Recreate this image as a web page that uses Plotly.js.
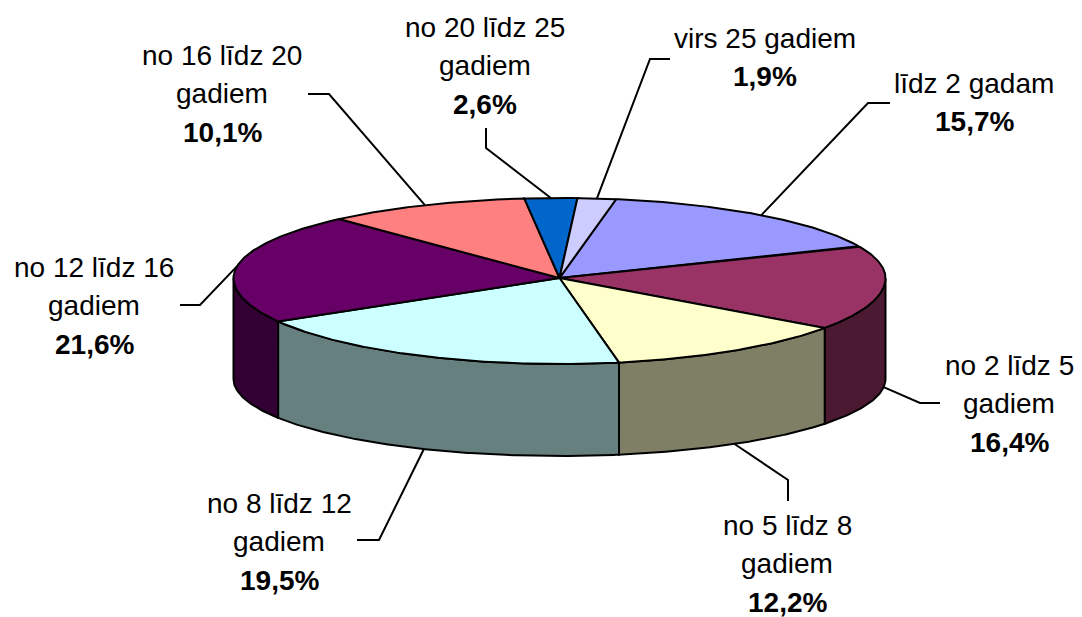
<!DOCTYPE html>
<html>
<head>
<meta charset="utf-8">
<script src="https://cdn.plot.ly/plotly-3.0.1.min.js"></script>
<style>html,body{margin:0;padding:0;background:#fff}#chart{width:1082px;height:617px}</style>
</head>
<body>
<div id="chart"></div>
<script>
// ---- data ----
const categories = ['līdz 2 gadam','no 2 līdz 5 gadiem','no 5 līdz 8 gadiem','no 8 līdz 12 gadiem','no 12 līdz 16 gadiem','no 16 līdz 20 gadiem','no 20 līdz 25 gadiem','virs 25 gadiem'];
const shares = [15.7, 16.4, 12.2, 19.5, 21.6, 10.1, 2.6, 1.9];
const topColors = ['#9999FF','#993366','#FFFFCC','#CCFFFF','#660066','#FF8080','#0066CC','#CCCCFF'];

// ---- layout of the pseudo-3D pie (pixels of the plot area) ----
const G = {cx: 559.5, cy: 278, rx: 326, ryBack: 80, ryFront: 86, cyB: 379, ryB: 77, start: 10};
// label placement: centre x, first baseline, elbow and end of the leader line
const labelLayout = [
  {x: 974,  base: 93,  elbow: [868, 103], end: [890, 103]},
  {x: 1009, base: 375, elbow: [920, 403], end: [940, 403]},
  {x: 787,  base: 535, elbow: [788, 480], end: [788, 501]},
  {x: 279,  base: 513, elbow: [379, 540], end: [357, 540]},
  {x: 94,   base: 277, elbow: [200, 305], end: [180, 305]},
  {x: 222,  base: 65,  elbow: [329, 94],  end: [308, 94]},
  {x: 485,  base: 37,  elbow: [486, 148], end: [486, 128]},
  {x: 765,  base: 48,  elbow: [650, 59],  end: [670, 59]}
];
const lineGap = 38.5;
const FONT = 'Liberation Sans, Arial, sans-serif';
const FONT_SIZE = 28;

function halve(hex){
  const n = parseInt(hex.slice(1),16);
  const r = (n>>16)&255, g=(n>>8)&255, b=n&255;
  return 'rgb('+Math.floor(r/2)+','+Math.floor(g/2)+','+Math.floor(b/2)+')';
}
function topPt(deg){
  const r = deg*Math.PI/180, c = Math.cos(r);
  const ry = c >= 0 ? G.ryBack : G.ryFront;
  return [G.cx + G.rx*Math.sin(r), G.cy - ry*c];
}
function botPt(deg){
  const r = deg*Math.PI/180, c = Math.cos(r);
  return [G.cx + G.rx*Math.sin(r), G.cyB - G.ryB*c];
}
function arc(fn, a, b){
  const pts = [];
  const n = Math.max(2, Math.ceil(Math.abs(b-a)/0.5));
  for (let i=0;i<=n;i++){ pts.push(fn(a + (b-a)*i/n)); }
  return pts;
}

const total = shares.reduce((s,v)=>s+v,0);
const slices = [];
let acc = G.start;
shares.forEach((v,i)=>{
  const a = acc, b = acc + v/total*360;
  slices.push({a, b, mid:(a+b)/2});
  acc = b;
});

const traces = [];
// side walls (front half only)
slices.forEach((s,i)=>{
  const lo = Math.max(s.a, 90), hi = Math.min(s.b, 270);
  if (hi <= lo) return;
  const pts = arc(topPt, lo, hi).concat(arc(botPt, hi, lo));
  pts.push(pts[0]);
  traces.push({type:'scatter', mode:'lines', x:pts.map(p=>p[0]), y:pts.map(p=>p[1]),
    fill:'toself', fillcolor: halve(topColors[i]), line:{color:'#000', width:2},
    hoverinfo:'skip', showlegend:false});
});
// top faces
slices.forEach((s,i)=>{
  const pts = [[G.cx, G.cy]].concat(arc(topPt, s.a, s.b));
  pts.push([G.cx, G.cy]);
  traces.push({type:'scatter', mode:'lines', x:pts.map(p=>p[0]), y:pts.map(p=>p[1]),
    fill:'toself', fillcolor: topColors[i], line:{color:'#000', width:2},
    hoverinfo:'skip', showlegend:false});
});
// leader lines
slices.forEach((s,i)=>{
  const c = Math.cos(s.mid*Math.PI/180);
  const p = c >= 0 ? topPt(s.mid) : botPt(s.mid);
  const L = labelLayout[i];
  traces.push({type:'scatter', mode:'lines', x:[p[0], L.elbow[0], L.end[0]], y:[p[1], L.elbow[1], L.end[1]],
    line:{color:'#000', width:2}, hoverinfo:'skip', showlegend:false});
});

// labels
const annotations = [];
categories.forEach((name,i)=>{
  let lines;
  if (name.startsWith('no ')) {
    const k = name.lastIndexOf(' gadiem');
    lines = [name.slice(0,k), 'gadiem'];
  } else {
    lines = [name];
  }
  lines.push('<b>' + shares[i].toFixed(1).replace('.', ',') + '%</b>');
  const L = labelLayout[i];
  lines.forEach((t,j)=>{
    annotations.push({x: L.x, y: L.base + j*lineGap - 10, xref:'x', yref:'y', text: t,
      showarrow:false, xanchor:'center', yanchor:'middle',
      font:{family:FONT, size:FONT_SIZE, color:'#000'}});
  });
});

const layout = {
  width:1082, height:617,
  margin:{l:0,r:0,t:0,b:0},
  paper_bgcolor:'#fff', plot_bgcolor:'#fff',
  xaxis:{range:[0,1082], visible:false, fixedrange:true},
  yaxis:{range:[617,0], visible:false, fixedrange:true},
  showlegend:false,
  annotations: annotations,
  font:{family:FONT}
};
Plotly.newPlot('chart', traces, layout, {displayModeBar:false, staticPlot:true});
</script>
</body>
</html>
